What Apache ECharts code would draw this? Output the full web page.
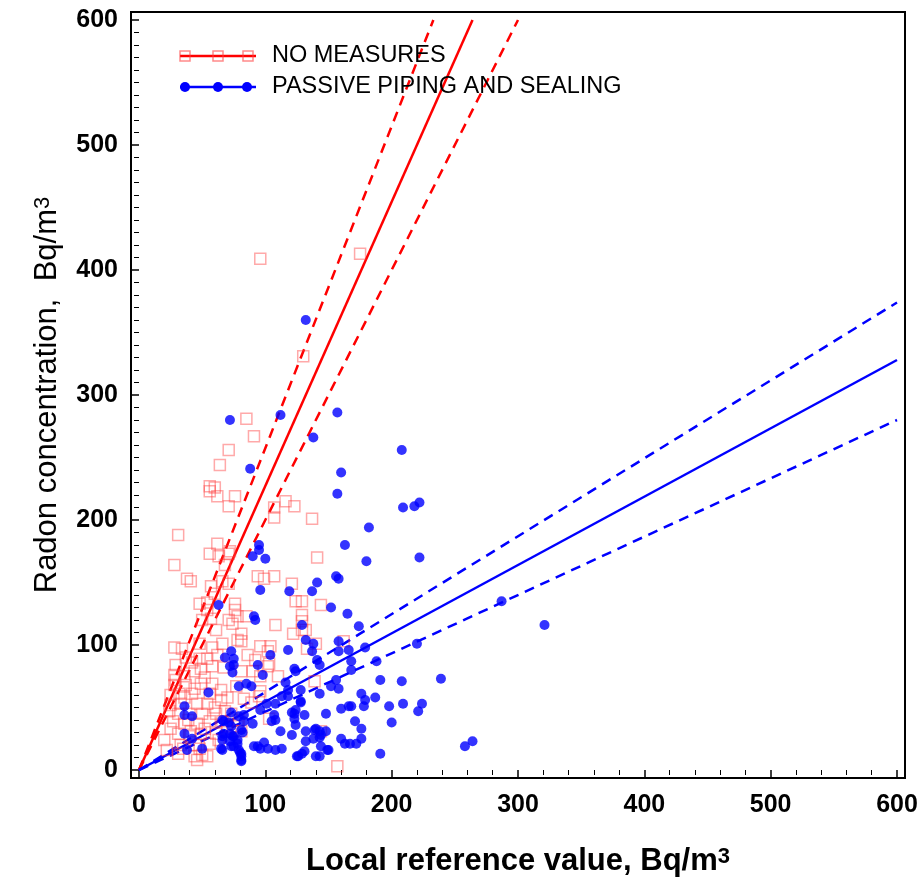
<!DOCTYPE html>
<html>
<head>
<meta charset="utf-8">
<title>Radon concentration vs local reference value</title>
<script src="https://cdn.jsdelivr.net/npm/echarts@6/dist/echarts.min.js"></script>
<style>
  html, body { margin: 0; padding: 0; background: #fff; }
  #chart { width: 918px; height: 888px; }
</style>
</head>
<body>
<div id="chart"></div>
<script>
// 数据: [参考值, 氡浓度]
const noMeasures = [
  [96,409],[175,413],[130,331],[85,281],[91,267],[71,256],[64,244],[56,227],[60,226],[56,223],
  [62,219],[76,219],[71,211],[107,210],[116,215],[123,211],[107,202],[137,201],[31,188],[62,181],
  [56,173],[72,175],[63,171],[71,173],[141,170],[68,164],[28,164],[38,153],[41,151],[57,147],
  [66,151],[71,149],[60,141],[48,133],[54,134],[54,128],[76,133],[76,128],[50,120],[57,121],
  [61,112],[71,120],[78,123],[85,123],[28,98],[48,101],[66,101],[74,117],[81,109],[96,99],
  [104,99],[81,103],[108,116],[122,109],[129,112],[133,97],[124,135],[129,135],[94,155],[99,153],
  [107,155],[121,149],[144,132],[129,124],[129,119],[132,112],[140,101],[162,103],[103,85],[81,79],
  [90,79],[96,63],[89,54],[139,71],[157,3],[144,31],[103,41],[83,57],[77,67],[78,35],
  [78,104],[29,84],[37,90],[48,89],[54,89],[28,76],[36,75],[44,79],[49,81],[58,83],
  [28,68],[37,68],[49,69],[58,69],[65,64],[32,61],[42,61],[56,61],[25,52],[33,53],
  [46,53],[54,53],[65,56],[31,45],[40,45],[50,45],[61,45],[73,45],[27,39],[36,37],
  [46,37],[56,39],[66,39],[79,40],[31,29],[40,27],[49,29],[61,29],[74,31],[81,31],
  [33,20],[45,20],[56,21],[44,11],[50,12],[102,83],[110,75],[96,75],[102,95],[95,59],
  [24,47],[25,60],[31,13],[22,16],[20,24],[25,33],[46,8],[54,11],[34,97],[42,86],
  [52,74],[62,92],[70,58],[44,65],[36,58],[60,50],[68,47],[29,72],[39,40],[52,33],
  [63,24],[70,35],[86,92],[92,88],[58,98],[67,82],[41,31],[35,17],[48,17]
];

const passivePiping = [
  [132,360],[72,280],[112,284],[157,286],[138,266],[208,256],[88,241],[160,238],[157,221],[209,210],
  [218,211],[222,214],[182,194],[95,180],[95,176],[90,171],[100,169],[163,180],[180,167],[222,170],
  [156,155],[158,153],[141,150],[137,143],[96,144],[119,143],[152,130],[165,125],[63,132],[91,123],
  [92,120],[129,116],[174,115],[287,135],[321,116],[220,101],[132,104],[138,101],[137,95],[158,103],
  [158,95],[166,96],[179,98],[118,96],[104,92],[141,88],[143,84],[168,87],[168,80],[188,87],
  [94,84],[98,76],[123,81],[124,79],[116,70],[118,64],[128,64],[152,67],[158,65],[156,72],
  [191,72],[208,71],[239,73],[85,69],[89,67],[79,67],[113,59],[101,53],[108,53],[128,54],
  [143,61],[176,61],[179,56],[178,51],[187,58],[198,51],[209,53],[224,53],[221,47],[160,49],
  [166,51],[168,51],[148,45],[171,39],[200,38],[176,33],[83,44],[79,43],[90,37],[96,48],
  [107,44],[108,40],[105,39],[123,45],[123,41],[124,36],[112,31],[121,28],[132,31],[132,23],
  [139,32],[143,31],[148,31],[144,28],[160,25],[163,21],[167,21],[172,21],[176,25],[144,19],
  [149,16],[143,11],[129,13],[126,11],[91,19],[94,19],[99,22],[96,17],[108,16],[113,17],
  [150,16],[191,13],[78,21],[80,14],[81,8],[75,27],[82,30],[258,19],[264,23],[73,95],
  [68,90],[72,83],[74,78],[55,62],[36,51],[36,44],[42,43],[73,46],[36,29],[42,25],
  [38,16],[50,17],[66,40],[66,27],[66,16],[73,35],[74,27],[73,19],[78,24],[81,13],
  [102,17],[131,44],[118,59],[75,89],[75,84],[128,55],[83,39],[67,39],[71,38],[67,29],
  [72,29],[66,24],[72,23],[75,19],[79,16],[81,11],[81,7],[81,32],[121,46],[124,48],
  [140,33],[138,25],[143,26],[131,15],[125,11],[140,11],[65,17]
];

// 回归线及置信区间 (端点)
const redFit = [[0,0],[264,600]];
const redUpper = [[0,0],[233,600]];
const redLower = [[0,0],[300,600]];
const blueFit = [[0,0],[600,328]];
const blueUpper = [[0,0],[600,374]];
const blueLower = [[0,0],[600,280]];

const tickValues = [0, 100, 200, 300, 400, 500, 600];
const legendNames = ['NO MEASURES', 'PASSIVE PIPING AND SEALING'];

var chart = echarts.init(document.getElementById('chart'));

const RED = '#ff0000';
const BLUE = '#0000ff';
const dash = [10, 7];
const FONT = '"Liberation Sans", Arial, sans-serif';

function fitLine(data, color, dashed) {
  return {
    type: 'line',
    data: data,
    symbol: 'none',
    silent: true,
    z: 1,
    lineStyle: { color: color, width: 2.5, type: dashed ? dash : 'solid' }
  };
}

const option = {
  backgroundColor: '#fff',
  animation: false,
  grid: { left: 139, right: 21, top: 20, bottom: 118, containLabel: false, outerBoundsMode: 'none' },
  xAxis: {
    type: 'value',
    min: tickValues[0],
    max: tickValues[tickValues.length - 1],
    interval: 100,
    offset: 8,
    axisLine: { show: false },
    axisTick: { show: true, inside: false, length: 9, lineStyle: { color: '#000', width: 1.5 } },
    minorTick: { show: true, splitNumber: 5, length: 5, lineStyle: { color: '#000', width: 1 } },
    splitLine: { show: false },
    axisLabel: { margin: 15, color: '#000', fontSize: 25, fontWeight: 'bold', fontFamily: FONT },
    name: 'Local reference value, Bq/m{s|3}',
    nameLocation: 'middle',
    nameGap: 68,
    nameTextStyle: {
      color: '#000', fontSize: 31, fontWeight: 'bold', fontFamily: FONT,
      rich: { s: { fontSize: 22, verticalAlign: 'top', fontWeight: 'bold', fontFamily: FONT } }
    }
  },
  yAxis: {
    type: 'value',
    min: tickValues[0],
    max: tickValues[tickValues.length - 1],
    interval: 100,
    offset: 8,
    axisLine: { show: false },
    axisTick: { show: true, inside: false, length: 9, lineStyle: { color: '#000', width: 1.5 } },
    minorTick: { show: true, splitNumber: 10, length: 5, lineStyle: { color: '#000', width: 1 } },
    splitLine: { show: false },
    axisLabel: { margin: 13, color: '#000', fontSize: 25, fontWeight: 'bold', fontFamily: FONT },
    name: 'Radon concentration,  Bq/m{s|3}',
    nameLocation: 'middle',
    nameGap: 68,
    nameRotate: 90,
    nameTextStyle: {
      color: '#000', fontSize: 31, fontFamily: FONT,
      rich: { s: { fontSize: 22, verticalAlign: 'top', fontFamily: FONT } }
    }
  },
  graphic: [
    // 外框
    { type: 'rect', shape: { x: 131, y: 12, width: 774, height: 766 },
      style: { fill: 'none', stroke: '#000', lineWidth: 2 }, z: 10, silent: true },
    // 图例
    { type: 'line', shape: { x1: 180, y1: 56, x2: 256, y2: 56 }, style: { stroke: RED, lineWidth: 2.5 }, z: 10 },
    { type: 'rect', shape: { x: 180, y: 51, width: 10, height: 10 }, style: { fill: 'none', stroke: 'rgba(255,60,60,0.6)', lineWidth: 1.5 }, z: 10 },
    { type: 'rect', shape: { x: 213, y: 51, width: 10, height: 10 }, style: { fill: 'none', stroke: 'rgba(255,60,60,0.6)', lineWidth: 1.5 }, z: 10 },
    { type: 'rect', shape: { x: 243, y: 51, width: 10, height: 10 }, style: { fill: 'none', stroke: 'rgba(255,60,60,0.6)', lineWidth: 1.5 }, z: 10 },
    { type: 'text', x: 272, y: 56, style: { text: legendNames[0], fill: '#000', font: '23.5px ' + FONT, verticalAlign: 'middle' }, z: 10 },
    { type: 'line', shape: { x1: 180, y1: 87, x2: 256, y2: 87 }, style: { stroke: BLUE, lineWidth: 2.5 }, z: 10 },
    { type: 'circle', shape: { cx: 185, cy: 87, r: 5 }, style: { fill: BLUE }, z: 10 },
    { type: 'circle', shape: { cx: 218, cy: 87, r: 5 }, style: { fill: BLUE }, z: 10 },
    { type: 'circle', shape: { cx: 247, cy: 87, r: 5 }, style: { fill: BLUE }, z: 10 },
    { type: 'text', x: 272, y: 87, style: { text: legendNames[1], fill: '#000', font: '23.5px ' + FONT, verticalAlign: 'middle' }, z: 10 }
  ],
  series: [
    fitLine(redFit, RED, false),
    fitLine(redUpper, RED, true),
    fitLine(redLower, RED, true),
    fitLine(blueFit, BLUE, false),
    fitLine(blueUpper, BLUE, true),
    fitLine(blueLower, BLUE, true),
    {
      name: legendNames[0],
      type: 'scatter',
      data: noMeasures,
      symbol: 'rect',
      symbolSize: 11,
      z: 2,
      itemStyle: { color: 'rgba(255,255,255,0)', borderColor: 'rgba(255,60,60,0.55)', borderWidth: 1.5 }
    },
    {
      name: legendNames[1],
      type: 'scatter',
      data: passivePiping,
      symbol: 'circle',
      symbolSize: 10,
      z: 3,
      itemStyle: { color: BLUE }
    }
  ]
};

chart.setOption(option);
window.addEventListener('resize', () => {
  chart.resize();
});
</script>
</body>
</html>
